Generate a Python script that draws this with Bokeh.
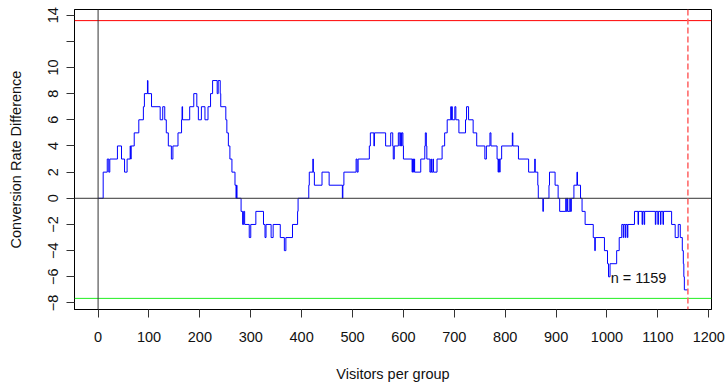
from bokeh.plotting import figure
from bokeh.models import Range1d, FixedTicker, Span, Label
from bokeh.embed import file_html
from bokeh.resources import INLINE

# ---- data ----
step_n = [0, 10, 18, 21, 23, 38, 46, 52, 57, 63, 64, 65, 71, 80, 89, 91, 97, 98, 105, 122,
          127, 131, 134, 138, 144, 147, 157, 164, 165, 166, 180, 188, 194, 197, 203, 210, 216, 221, 225, 234,
          236, 240, 241, 251, 253, 256, 259, 263, 269, 271, 272, 273, 281, 284, 286, 288, 297, 300, 310, 325,
          328, 330, 340, 344, 358, 366, 369, 382, 392, 393, 414, 415, 422, 423, 425, 440, 454, 480, 481, 483,
          507, 509, 511, 533, 535, 542, 543, 565, 575, 579, 580, 582, 590, 593, 594, 596, 597, 599, 600, 617,
          618, 620, 621, 622, 634, 642, 643, 645, 646, 652, 654, 655, 658, 659, 666, 676, 681, 686, 693, 694,
          695, 696, 701, 703, 709, 722, 724, 728, 737, 744, 760, 763, 770, 772, 784, 786, 787, 789, 790, 793,
          814, 815, 826, 846, 858, 859, 864, 865, 874, 875, 886, 887, 898, 904, 907, 919, 920, 922, 923, 927,
          928, 930, 935, 941, 942, 948, 951, 957, 973, 976, 977, 995, 1001, 1003, 1006, 1019, 1024, 1029, 1032, 1033,
          1036, 1037, 1040, 1041, 1054, 1061, 1062, 1069, 1070, 1073, 1074, 1095, 1096, 1100, 1101, 1105, 1106, 1110, 1111, 1127,
          1134, 1140, 1144, 1148, 1150, 1151, 1152, 1159]
step_val = [0, 2, 3, 2, 3, 4, 3, 2, 3, 4, 3, 4, 5, 6, 7, 8, 9, 8, 7, 6,
            7, 6, 5, 4, 3, 4, 5, 6, 7, 6, 7, 8, 7, 6, 7, 6, 7, 8, 9, 8,
            9, 8, 7, 6, 5, 4, 3, 2, 1, 0, 1, 0, -1, -2, -1, -2, -3, -2, -1, -2,
            -3, -2, -3, -2, -3, -4, -3, -2, -1, 0, 1, 2, 3, 2, 1, 2, 1, 0, 1, 2,
            3, 2, 3, 4, 5, 4, 5, 4, 5, 4, 3, 4, 5, 4, 5, 4, 5, 4, 3, 2,
            3, 2, 3, 2, 3, 4, 5, 4, 3, 2, 3, 2, 3, 2, 3, 4, 5, 6, 7, 6,
            7, 6, 7, 6, 5, 6, 7, 6, 5, 4, 3, 4, 5, 4, 3, 2, 3, 2, 3, 4,
            5, 4, 3, 2, 3, 2, 1, 0, -1, 0, 1, 2, 1, 0, -1, 0, -1, 0, -1, 0,
            -1, 0, 1, 2, 1, 0, -1, -2, -3, -4, -3, -4, -5, -6, -5, -4, -3, -2, -3, -2,
            -3, -2, -3, -2, -1, -2, -1, -2, -1, -2, -1, -2, -1, -2, -1, -2, -1, -2, -1, -2,
            -3, -2, -3, -4, -5, -6, -7, -7]
n_total = 1159
upper_bound = 13.58
lower_bound = -7.65
x_ticks = [0, 100, 200, 300, 400, 500, 600, 700, 800, 900, 1000, 1100, 1200]
y_ticks = [-8, -6, -4, -2, 0, 2, 4, 6, 8, 10, 12, 14]
y_hidden_labels = [12]
x_title = "Visitors per group"
y_title = "Conversion Rate Difference"
note = "n = " + str(n_total)

FONT = "Liberation Sans"
FS = "14.5px"

pad_x = n_total * 0.04
pad_y = (upper_bound - lower_bound) * 0.04

p = figure(width=725, height=384, output_backend="svg", toolbar_location=None,
           x_range=Range1d(-pad_x, n_total + pad_x),
           y_range=Range1d(lower_bound - pad_y, upper_bound + pad_y),
           min_border_left=74, min_border_right=14, min_border_top=9, min_border_bottom=72,
           background_fill_color="white", border_fill_color="white")

p.xgrid.visible = False
p.ygrid.visible = False
p.outline_line_color = "black"
p.outline_line_width = 1
p.outline_line_alpha = 1

p.step(step_n, step_val, mode="after", line_color="#0000FF", line_width=1)

p.add_layout(Span(location=upper_bound, dimension="width", line_color="#FF0000", line_width=1))
p.add_layout(Span(location=lower_bound, dimension="width", line_color="#22EE22", line_width=1))
p.add_layout(Span(location=0, dimension="width", line_color="#333333", line_width=1))
p.add_layout(Span(location=0, dimension="height", line_color="#333333", line_width=1))
p.add_layout(Span(location=n_total, dimension="height", line_color="#FF6060", line_width=1.5,
                  line_dash="6 3"))

p.add_layout(Label(x=1062, y=-6.06, text=note, text_align="center", text_baseline="middle",
                   text_font=FONT, text_font_size=FS, text_color="#111111"))

for ax in (p.xaxis[0], p.yaxis[0]):
    ax.axis_line_color = "black"
    ax.major_tick_line_color = "#333333"
    ax.major_tick_in = 0
    ax.major_tick_out = 8
    ax.minor_tick_line_color = None
    ax.major_label_text_font = FONT
    ax.major_label_text_font_size = FS
    ax.major_label_text_color = "#111111"
    ax.axis_label_text_font = FONT
    ax.axis_label_text_font_size = FS
    ax.axis_label_text_font_style = "normal"
    ax.axis_label_text_color = "#111111"

p.xaxis.ticker = FixedTicker(ticks=x_ticks)
p.yaxis.ticker = FixedTicker(ticks=y_ticks)
p.yaxis.major_label_overrides = {t: "" for t in y_hidden_labels}
p.yaxis.major_label_orientation = "vertical"
p.xaxis.axis_label = x_title
p.yaxis.axis_label = y_title
p.xaxis.major_label_standoff = 14
p.xaxis.axis_label_standoff = 21
p.yaxis.major_label_standoff = 8
p.yaxis.axis_label_standoff = 22

open("out.html", "w").write(file_html(p, INLINE))
